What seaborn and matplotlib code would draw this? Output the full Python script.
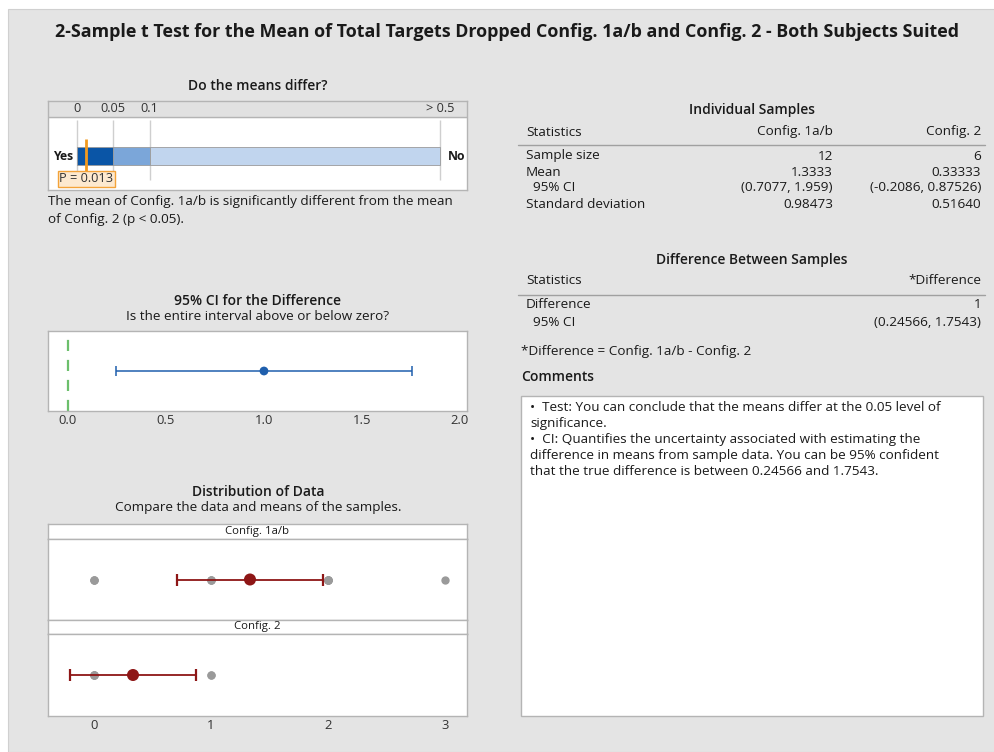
import numpy as np
import matplotlib
matplotlib.use("Agg")
import matplotlib.pyplot as plt
import seaborn as sns
from matplotlib.patches import Rectangle
from matplotlib.lines import Line2D

# ---- data ----
p_value = 0.013
p_cuts = [0, 0.05, 0.1, 0.5]
p_tick_labels = ["0", "0.05", "0.1", "> 0.5"]

diff_est = 1.0
diff_ci = [0.24566, 1.7543]
ci_ticks = [0.0, 0.5, 1.0, 1.5, 2.0]

groups = ["Config. 1a/b", "Config. 2"]
config1 = [0, 0, 0, 1, 1, 1, 2, 2, 2, 2, 2, 3]
config2 = [0, 0, 0, 0, 1, 1]
group_means = [1.3333, 0.33333]
group_ci_low = [0.7077, -0.2086]
group_ci_high = [1.959, 0.87526]
dist_ticks = [0, 1, 2, 3]

stat_rows = ["Sample size", "Mean", "  95% CI", "Standard deviation"]
col1_vals = ["12", "1.3333", "(0.7077, 1.959)", "0.98473"]
col2_vals = ["6", "0.33333", "(-0.2086, 0.87526)", "0.51640"]
diff_rows = ["Difference", "  95% CI"]
diff_vals = ["1", "(0.24566, 1.7543)"]

comments = ("\u2022  Test: You can conclude that the means differ at the 0.05 level of\n"
            "significance.\n"
            "\u2022  CI: Quantifies the uncertainty associated with estimating the\n"
            "difference in means from sample data. You can be 95% confident\n"
            "that the true difference is between 0.24566 and 1.7543.")

# ---- style ----
sns.set_style("white")
plt.rcParams["font.family"] = ["Open Sans", "DejaVu Sans"]
TXT = "#1a1a1a"
EDGE = "#b4b4b4"
BG = "#e4e4e4"
BODY = 9.7
HEAD = 10
W, H = 995, 752

fig = plt.figure(figsize=(W / 100, H / 100), dpi=100)
fig.patch.set_facecolor("white")
fig.add_artist(Rectangle((8 / W, 0), 1, 1 - 9 / H, transform=fig.transFigure,
                         facecolor=BG, edgecolor="#d0d0d0", lw=0.8, zorder=-10))


def ax_px(x0, y0, x1, y1):
    return fig.add_axes([x0 / W, 1 - y1 / H, (x1 - x0) / W, (y1 - y0) / H])


def ftext(x, y, s, **kw):
    kw.setdefault("color", TXT)
    kw.setdefault("va", "center")
    kw.setdefault("fontsize", BODY)
    return fig.text(x / W, 1 - y / H, s, **kw)


def fline(x0, x1, y, color="#a0a0a0", lw=1.0):
    fig.add_artist(Line2D([x0 / W, x1 / W], [1 - y / H, 1 - y / H],
                          transform=fig.transFigure, color=color, lw=lw))


def frame(ax):
    for s in ax.spines.values():
        s.set_color(EDGE)
        s.set_linewidth(1.0)


ftext(507, 32, "2-Sample t Test for the Mean of Total Targets Dropped Config. 1a/b and "
      "Config. 2 - Both Subjects Suited", ha="center", fontsize=12.9, fontweight="bold")

# ---- p-value bar ----
ftext(258, 86, "Do the means differ?", ha="center", fontsize=HEAD, fontweight="semibold")
axp = ax_px(48, 101, 467, 190)
bar_pos = [0, 1, 2, 10]  # screen spacing of the p-value scale
to_x = lambda p: np.interp(p, p_cuts, bar_pos)
axp.set_xlim(-0.8, 10.74)
axp.set_ylim(89, 0)
axp.axhspan(0, 16, color="#e1e1e1", zorder=0)
axp.axhline(16, color=EDGE, lw=1)
bar_colors = ["#0a55a6", "#7ba6d9", "#c1d5ee"]
for lo, hi, c in zip(p_cuts[:-1], p_cuts[1:], bar_colors):
    axp.barh(55, to_x(hi) - to_x(lo), left=to_x(lo), height=18, color=c,
             edgecolor="#9a9a9a", lw=0.6, zorder=2)
axp.vlines([to_x(p) for p in p_cuts], 19, 79, color="#cfcfcf", lw=1, zorder=1)
for p, lab in zip(p_cuts, p_tick_labels):
    axp.text(to_x(p), 8, lab, ha="center", va="center", fontsize=9.2, color="#333333")
axp.vlines(to_x(p_value), 38, 71, color="#f39a1e", lw=2, zorder=3)
axp.text(to_x(p_value), 78, f"P = {p_value:.3f}", ha="center", va="center",
         fontsize=9.2, color="#333333", zorder=4,
         bbox=dict(boxstyle="square,pad=0.12", fc="#fde9cf", ec="#f3a33a", lw=1))
axp.text(-0.1, 55, "Yes", ha="right", va="center", fontsize=8.8, fontweight="bold", color=TXT)
axp.text(10.2, 55, "No", ha="left", va="center", fontsize=8.8, fontweight="bold", color=TXT)
axp.set_xticks([])
axp.set_yticks([])
frame(axp)
ftext(48, 201, "The mean of Config. 1a/b is significantly different from the mean")
ftext(48, 219, "of Config. 2 (p < 0.05).")

# ---- CI for the difference ----
ftext(258, 301, "95% CI for the Difference", ha="center", fontsize=HEAD, fontweight="semibold")
ftext(258, 316, "Is the entire interval above or below zero?", ha="center")
axc = ax_px(48, 331, 467, 411)
axc.axvline(0, color="#6cbf6c", lw=1.6, ls=(0, (5, 4)))
axc.errorbar([diff_est], [0], xerr=[[diff_est - diff_ci[0]], [diff_ci[1] - diff_est]],
             fmt="none", ecolor="#1f5fad", elinewidth=1.1, capsize=3.5, capthick=1.1)
sns.scatterplot(x=[diff_est], y=[0], ax=axc, color="#1f5fad", s=40, edgecolor="none", zorder=3)
axc.set_xlim(-0.102, 2.036)
axc.set_ylim(-1, 1)
axc.set_xticks(ci_ticks)
axc.set_xticklabels([f"{t:.1f}" for t in ci_ticks], fontsize=9.4, color="#333333")
axc.set_yticks([])
axc.tick_params(axis="x", length=0, pad=2)
frame(axc)

# ---- distribution of data ----
ftext(258, 492, "Distribution of Data", ha="center", fontsize=HEAD, fontweight="semibold")
ftext(258, 508, "Compare the data and means of the samples.", ha="center")
panels = [(524, 539, 620), (620, 634, 716)]
for i, (vals, (ys, yp, yb)) in enumerate(zip([config1, config2], panels)):
    axs = ax_px(48, ys, 467, yp)
    axs.set_xticks([])
    axs.set_yticks([])
    axs.text(0.5, 0.5, groups[i], ha="center", va="center", fontsize=8.2,
             color=TXT, transform=axs.transAxes)
    frame(axs)
    ax = ax_px(48, yp, 467, yb)
    sns.stripplot(x=vals, ax=ax, color="#9a9a9a", size=6, jitter=False, zorder=2)
    ax.errorbar([group_means[i]], [0],
                xerr=[[group_means[i] - group_ci_low[i]], [group_ci_high[i] - group_means[i]]],
                fmt="none", ecolor="#8e1616", elinewidth=1.3, capsize=4.5, capthick=1.6, zorder=3)
    sns.scatterplot(x=[group_means[i]], y=[0], ax=ax, color="#8e1616", s=75,
                    edgecolor="none", zorder=4)
    ax.set_xlim(-0.393, 3.188)
    ax.set_ylim(-1, 1)
    ax.set_yticks([])
    ax.set_ylabel("")
    if i == 1:
        ax.set_xticks(dist_ticks)
        ax.set_xticklabels([str(t) for t in dist_ticks], fontsize=9.4, color="#333333")
        ax.tick_params(axis="x", length=0, pad=2)
    else:
        ax.set_xticks([])
    frame(ax)

# ---- tables on the right ----
ftext(752, 110, "Individual Samples", ha="center", fontsize=HEAD, fontweight="semibold")
ftext(526, 132, "Statistics")
ftext(833, 132, groups[0], ha="right")
ftext(981, 132, groups[1], ha="right")
fline(518, 985, 144.5)
for y, lab, v1, v2 in zip([156, 172, 187.5, 205], stat_rows, col1_vals, col2_vals):
    ftext(526, y, lab)
    ftext(833, y, v1, ha="right")
    ftext(981, y, v2, ha="right")

ftext(752, 260, "Difference Between Samples", ha="center", fontsize=HEAD, fontweight="semibold")
ftext(526, 281, "Statistics")
ftext(981, 281, "*Difference", ha="right")
fline(518, 985, 294.5)
for y, lab, v in zip([305, 322.5], diff_rows, diff_vals):
    ftext(526, y, lab)
    ftext(981, y, v, ha="right")
ftext(521, 352, "*Difference = Config. 1a/b - Config. 2")
ftext(521, 377, "Comments", fontsize=HEAD, fontweight="semibold")

fig.add_artist(Rectangle((521 / W, 1 - 716 / H), (983 - 521) / W, (716 - 396) / H,
                         transform=fig.transFigure, facecolor="white", edgecolor=EDGE, lw=1))
ftext(530, 401, comments, va="top", linespacing=1.3)

fig.savefig("out.png", dpi=100, facecolor=fig.get_facecolor())
